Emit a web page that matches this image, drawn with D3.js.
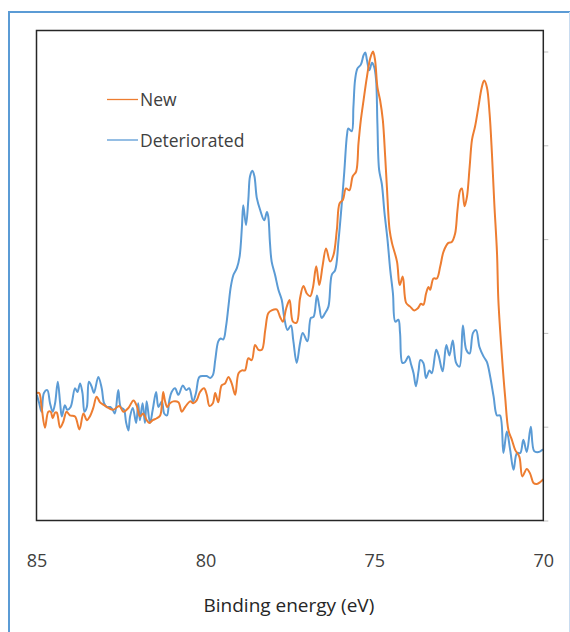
<!DOCTYPE html>
<html>
<head>
<meta charset="utf-8">
<script src="https://cdn.jsdelivr.net/npm/d3@7"></script>
<style>
  html, body { margin: 0; padding: 0; background: #fff; }
  svg { display: block; font-family: "Open Sans", sans-serif; }
</style>
</head>
<body>
<svg id="canvas" width="570" height="632"></svg>
<script>
// binding energy (eV) and intensity (arb. units)
const energyNew = [84.99,84.92,84.85,84.75,84.65,84.58,84.52,84.45,84.40,84.30,
  84.21,84.11,84.01,83.86,83.73,83.61,83.51,83.42,83.32,83.22,
  83.12,83.00,82.87,82.73,82.55,82.43,82.28,82.13,82.03,81.94,
  81.84,81.74,81.66,81.56,81.44,81.34,81.29,81.25,81.20,81.13,
  81.05,80.95,80.80,80.70,80.60,80.45,80.36,80.26,80.16,80.04,
  79.96,79.88,79.78,79.71,79.62,79.52,79.42,79.32,79.22,79.12,
  79.02,78.92,78.83,78.73,78.63,78.53,78.43,78.33,78.23,78.14,
  78.04,77.89,77.79,77.71,77.61,77.51,77.41,77.30,77.20,77.10,
  77.00,76.90,76.82,76.72,76.63,76.53,76.43,76.31,76.21,76.11,
  76.03,75.93,75.84,75.74,75.64,75.54,75.47,75.40,75.32,75.22,
  75.12,75.04,74.98,74.91,74.83,74.75,74.68,74.63,74.55,74.48,
  74.33,74.25,74.16,74.06,73.94,73.82,73.72,73.62,73.55,73.47,
  73.40,73.35,73.25,73.15,73.05,72.95,72.81,72.71,72.61,72.54,
  72.46,72.41,72.33,72.26,72.18,72.11,72.02,71.92,71.82,71.75,
  71.67,71.59,71.52,71.45,71.37,71.33,71.23,71.13,71.03,70.93,
  70.83,70.71,70.62,70.49,70.39,70.29,70.19,70.09,70.00];
const intensityNew = [1.36,1.36,1.21,0.99,1.16,1.16,1.09,1.15,1.15,0.99,
  1.05,1.16,1.12,1.11,0.97,1.14,1.07,1.11,1.20,1.32,
  1.26,1.23,1.20,1.18,1.22,1.16,1.20,1.28,1.22,1.11,
  1.14,1.07,1.04,1.07,1.09,1.12,1.23,1.37,1.28,1.21,
  1.25,1.27,1.26,1.16,1.21,1.27,1.25,1.28,1.37,1.41,
  1.34,1.22,1.25,1.36,1.26,1.44,1.46,1.53,1.46,1.34,
  1.57,1.60,1.60,1.73,1.71,1.87,1.82,1.82,2.03,2.21,
  2.24,2.25,2.17,2.12,2.26,2.35,2.12,2.11,2.37,2.50,
  2.42,2.39,2.48,2.71,2.51,2.72,2.90,2.76,2.83,3.10,
  3.38,3.42,3.54,3.52,3.67,3.72,4.02,4.27,4.48,4.73,
  4.93,5.00,4.91,4.62,4.48,4.27,3.88,3.56,3.10,2.96,
  2.76,2.51,2.60,2.32,2.28,2.24,2.26,2.31,2.30,2.42,
  2.49,2.46,2.58,2.58,2.71,2.87,2.96,2.97,3.06,3.31,
  3.52,3.54,3.35,3.45,3.77,4.06,4.20,4.41,4.62,4.69,
  4.62,4.34,3.91,3.38,2.85,2.35,1.78,1.32,0.96,0.86,
  0.75,0.68,0.47,0.55,0.50,0.40,0.39,0.41,0.44];

const energyDet = [84.99,84.92,84.85,84.78,84.68,84.60,84.52,84.45,84.37,84.30,
  84.25,84.16,84.09,83.99,83.86,83.79,83.71,83.64,83.58,83.51,
  83.45,83.37,83.30,83.17,83.07,83.00,82.92,82.82,82.74,82.68,
  82.58,82.51,82.41,82.35,82.28,82.23,82.15,82.05,81.99,81.94,
  81.86,81.79,81.74,81.64,81.56,81.46,81.39,81.29,81.22,81.14,
  81.07,81.00,80.90,80.80,80.67,80.57,80.48,80.37,80.28,80.18,
  80.06,79.96,79.86,79.78,79.71,79.62,79.55,79.47,79.39,79.32,
  79.25,79.17,79.07,78.99,78.92,78.88,78.80,78.73,78.68,78.61,
  78.55,78.48,78.38,78.26,78.18,78.14,78.09,78.04,77.94,77.84,
  77.74,77.67,77.57,77.47,77.40,77.30,77.20,77.12,76.98,76.88,
  76.80,76.70,76.63,76.56,76.46,76.36,76.26,76.16,76.06,75.96,
  75.89,75.81,75.77,75.67,75.62,75.57,75.50,75.40,75.32,75.27,
  75.22,75.15,75.07,75.01,74.95,74.91,74.86,74.78,74.70,74.61,
  74.53,74.45,74.38,74.29,74.24,74.17,74.09,73.99,73.91,73.84,
  73.77,73.69,73.64,73.55,73.47,73.37,73.30,73.17,73.10,72.98,
  72.87,72.78,72.68,72.58,72.48,72.38,72.28,72.18,72.08,71.99,
  71.89,71.77,71.67,71.57,71.47,71.37,71.28,71.18,71.08,70.98,
  70.88,70.78,70.68,70.59,70.49,70.37,70.27,70.14,70.00];
const intensityDet = [1.34,1.25,1.16,1.36,1.39,1.25,1.16,1.25,1.48,1.25,
  1.11,1.23,1.18,1.21,1.41,1.37,1.46,1.36,1.16,1.21,
  1.48,1.43,1.36,1.53,1.41,1.25,1.21,1.21,1.18,1.14,
  1.39,1.21,1.18,1.05,0.96,1.11,1.20,1.04,1.25,1.07,
  1.25,1.04,1.27,1.04,1.18,1.37,1.21,1.27,1.14,1.12,
  1.28,1.37,1.41,1.34,1.44,1.39,1.41,1.27,1.36,1.53,
  1.54,1.54,1.52,1.55,1.71,1.91,1.94,1.93,2.07,2.28,
  2.49,2.62,2.69,2.81,3.13,3.36,3.15,3.42,3.67,3.73,
  3.67,3.44,3.31,3.20,3.29,3.24,2.96,2.76,2.62,2.46,
  2.35,2.17,2.03,2.08,1.92,1.68,1.89,2.00,1.91,2.16,
  2.17,2.40,2.28,2.16,2.21,2.28,2.62,2.67,2.99,3.40,
  3.72,4.11,4.18,4.15,4.41,4.70,4.82,4.86,4.96,4.99,
  4.91,4.80,4.88,4.84,4.70,4.23,3.74,3.59,3.28,2.99,
  2.67,2.42,2.12,2.14,2.00,1.68,1.69,1.75,1.66,1.57,
  1.43,1.60,1.71,1.68,1.52,1.60,1.57,1.82,1.76,1.59,
  1.87,1.76,1.92,1.68,1.64,2.08,1.82,1.78,2.00,2.03,
  1.85,1.75,1.69,1.53,1.32,1.12,1.12,0.72,0.95,0.75,
  0.54,0.72,0.72,0.86,0.73,1.00,0.74,0.73,0.76];

const xTicks = [85, 80, 75, 70];
const yTicks = [0, 1, 2, 3, 4, 5];
const seriesNames = ["New", "Deteriorated"];
const seriesColors = ["#ED7D31", "#5B9BD5"];

const plot = { left: 36.5, top: 30.5, right: 543.3, bottom: 520.5 };

const svg = d3.select("#canvas");

// outer chart frame
svg.append("line").attr("x1", 9).attr("y1", 12).attr("x2", 9).attr("y2", 632)
  .attr("stroke", "#5B9BD5").attr("stroke-width", 2);
svg.append("line").attr("x1", 8).attr("y1", 12).attr("x2", 570).attr("y2", 12)
  .attr("stroke", "#5B9BD5").attr("stroke-width", 2);
svg.append("line").attr("x1", 569.5).attr("y1", 12).attr("x2", 569.5).attr("y2", 632)
  .attr("stroke", "#c9dcf0").attr("stroke-width", 1);

const x = d3.scaleLinear().domain([85, 70]).range([plot.left, plot.right]);
const y = d3.scaleLinear().domain([0, (plot.bottom - plot.top) / 93.8]).range([plot.bottom, plot.top]);

svg.append("clipPath").attr("id", "clip")
  .append("rect")
  .attr("x", plot.left).attr("y", plot.top)
  .attr("width", plot.right - plot.left).attr("height", plot.bottom - plot.top);

const line = d3.line()
  .x(d => x(d[0]))
  .y(d => y(d[1]))
  .curve(d3.curveCatmullRom.alpha(0.5));

const series = [
  d3.zip(energyNew, intensityNew),
  d3.zip(energyDet, intensityDet),
];

const lines = svg.append("g").attr("clip-path", "url(#clip)");
// blue first so the orange sits on top like the original
[1, 0].forEach(i => {
  lines.append("path")
    .datum(series[i])
    .attr("fill", "none")
    .attr("stroke", seriesColors[i])
    .attr("stroke-width", 2)
    .attr("stroke-linejoin", "round")
    .attr("d", line);
});

// right axis, ticks only
svg.append("g")
  .attr("transform", `translate(${plot.right},0)`)
  .call(d3.axisRight(y).tickValues(yTicks).tickSize(5).tickFormat(""))
  .call(g => g.select(".domain").remove())
  .call(g => g.selectAll("line").attr("stroke", "#bfbfbf"));

// bottom labels
svg.append("g")
  .attr("transform", `translate(0,${plot.bottom})`)
  .call(d3.axisBottom(x).tickValues(xTicks).tickSize(0).tickFormat(d3.format("d")))
  .call(g => g.select(".domain").remove())
  .call(g => g.selectAll("text")
    .attr("y", 46).attr("dy", 0)
    .attr("fill", "#404040")
    .attr("font-size", "18px")
    .attr("font-family", "Open Sans, sans-serif"));

// plot box
svg.append("rect")
  .attr("x", plot.left).attr("y", plot.top)
  .attr("width", plot.right - plot.left).attr("height", plot.bottom - plot.top)
  .attr("fill", "none")
  .attr("stroke", "#262626")
  .attr("stroke-width", 1.5);

svg.append("text")
  .attr("x", (plot.left + plot.right) / 2 - 1)
  .attr("y", 612)
  .attr("text-anchor", "middle")
  .attr("font-size", "19px")
  .attr("fill", "#262626")
  .text("Binding energy (eV)");

// legend
const legend = svg.append("g").attr("class", "legend");
seriesNames.forEach((name, i) => {
  const ly = 99.5 + i * 40.5;
  legend.append("line")
    .attr("x1", 107).attr("x2", 138)
    .attr("y1", ly).attr("y2", ly)
    .attr("stroke", seriesColors[i])
    .attr("stroke-width", 1.3);
  legend.append("text")
    .attr("x", 140)
    .attr("y", ly + 6.5)
    .attr("font-size", "17.5px")
    .attr("fill", "#404040")
    .text(name);
});
</script>
</body>
</html>
